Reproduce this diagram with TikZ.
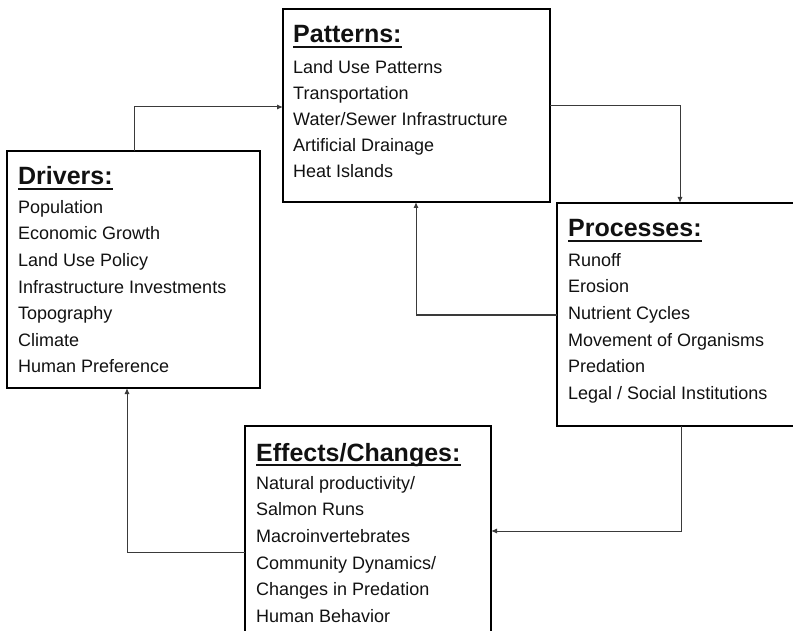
\documentclass[tikz,border=0pt]{standalone}
\usepackage{fontspec}
\setmainfont{Liberation Sans}
\usetikzlibrary{arrows.meta}
\definecolor{ink}{HTML}{111111}
\definecolor{wire}{HTML}{3A3A3A}
\begin{document}
\begin{tikzpicture}[x=1pt,y=-1pt,
  box/.style={draw=black,line width=1.8pt,anchor=north west,inner sep=0pt,outer sep=0pt},
  head/.style={anchor=base west,inner sep=0pt,font=\fontsize{25}{30}\selectfont\bfseries,text=ink},
  body/.style={anchor=north west,inner sep=0pt,align=left,text=ink},
  conn/.style={draw=wire,line width=1pt,-{Latex[length=6pt,width=5pt]}},
  uline/.style={draw=ink,line width=1.8pt}]
\useasboundingbox (0,0) rectangle (793,631);
\clip (0,0) rectangle (793,631);
% boxes
\node[box,minimum width=267pt,minimum height=193pt] (pat) at (283,9) {};
\node[box,minimum width=253pt,minimum height=237pt] (drv) at (7,151) {};
\node[box,minimum width=250pt,minimum height=223pt] (proc) at (557,203) {};
\node[box,minimum width=246pt,minimum height=230pt] (eff) at (245,426) {};
% headings
\node[head] (patH) at (293,43) {Patterns:};
\node[head] (drvH) at (18,185) {Drivers:};
\node[head] (procH) at (568,237) {Processes:};
\node[head] (effH) at (256,461) {Effects/Changes:};
\foreach \h in {patH,drvH,procH,effH}{
  \draw[uline] ([yshift=-4pt]\h.base west) -- ([yshift=-4pt]\h.base east);
}
% bodies
\node[body,font=\fontsize{18}{26}\selectfont] (patB) at (293,54.8)
  {\strut Land Use Patterns\\Transportation\\Water/Sewer Infrastructure\\Artificial Drainage\\Heat Islands};
\node[body,font=\fontsize{18}{26.6}\selectfont] (drvB) at (18,194.4)
  {\strut Population\\Economic Growth\\Land Use Policy\\Infrastructure Investments\\Topography\\Climate\\Human Preference};
\node[body,font=\fontsize{18}{26.6}\selectfont] (procB) at (568,247.4)
  {\strut Runoff\\Erosion\\Nutrient Cycles\\Movement of Organisms\\Predation\\Legal / Social Institutions};
\node[body,font=\fontsize{18}{26.6}\selectfont] (effB) at (256,470.4)
  {\strut Natural productivity/\\Salmon Runs\\Macroinvertebrates\\Community Dynamics/\\Changes in Predation\\Human Behavior};
% connector bends
\coordinate (c1) at (134,107);
\coordinate (c2) at (680,106);
\coordinate (c3) at (416,315);
\coordinate (c4) at (681,531);
\coordinate (c5) at (127,552);
\draw[conn] (c1 |- drv.north) |- (pat.west |- c1);
\draw[conn] (pat.east |- c2) -| (proc.north -| c2);
\draw[conn] (proc.west |- c3) -| (pat.south -| c3);
\draw[conn] (proc.south -| c4) |- (eff.east |- c4);
\draw[conn] (eff.west |- c5) -| (drv.south -| c5);
\end{tikzpicture}
\end{document}
